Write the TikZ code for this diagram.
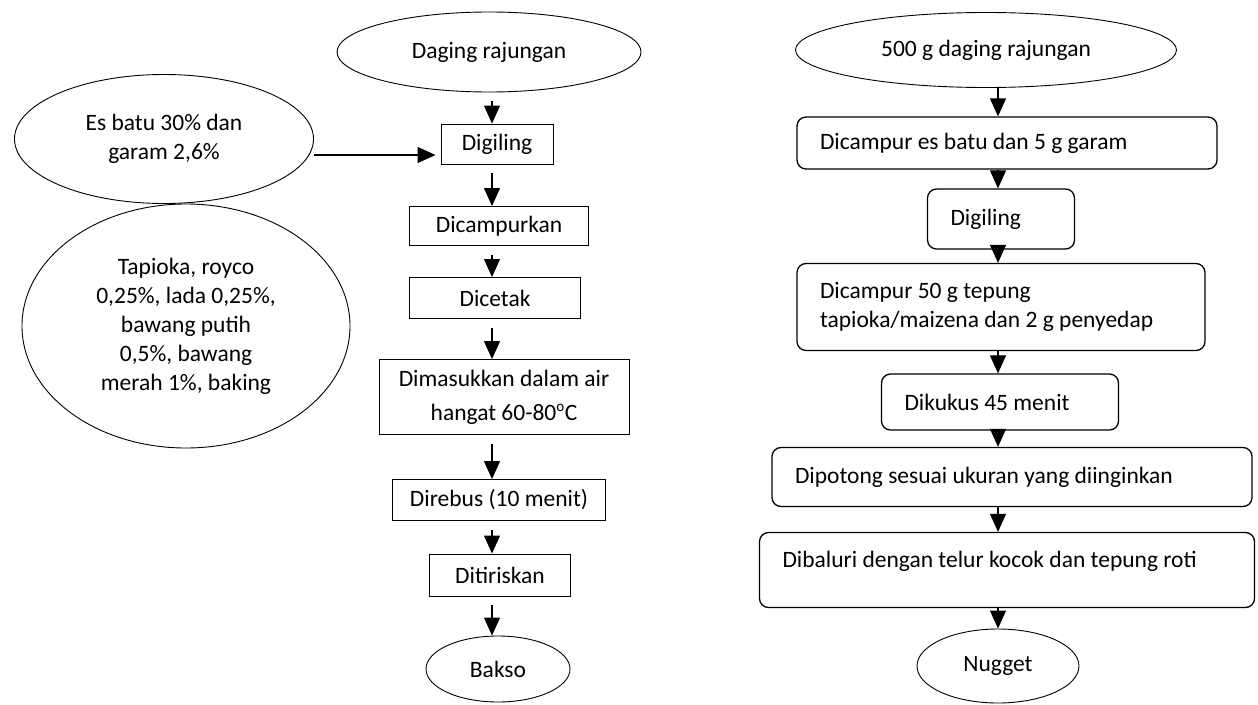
\documentclass[tikz,border=0pt]{standalone}
\usepackage{fontspec}
\setmainfont{Carlito}
\usetikzlibrary{arrows.meta,shapes.geometric}

\begin{document}
\begin{tikzpicture}[x=1pt,y=-1pt,
  font=\fontsize{23.5}{29}\selectfont,
  oval/.style={draw,ellipse,inner sep=0pt,align=center,line width=0.9pt},
  kotak/.style={draw,rectangle,inner sep=0pt,align=center,line width=0.9pt},
  bulat/.style={draw,rectangle,rounded corners=9pt,inner xsep=23pt,inner ysep=0pt,align=flush left,line width=1.3pt},
  panah/.style={-{Triangle[length=18pt,width=16pt]},line width=1.1pt}]
  \useasboundingbox (0,0) rectangle (1258,704);
  % Bakso
  \node[oval,minimum width=304pt,minimum height=80pt] (daging) at (489,52) {Daging rajungan};
  \node[kotak,minimum width=112pt,minimum height=40pt] (giling) at (497,144) {Digiling};
  \node[oval,minimum width=299pt,minimum height=129pt] (es) at (164,139) {Es batu 30\% dan\\garam 2,6\%};
  \node[kotak,minimum width=179pt,minimum height=39pt] (campur) at (499,226) {Dicampurkan};
  \node[kotak,minimum width=171pt,minimum height=41pt] (cetak) at (495,298) {Dicetak};
  \node[kotak,minimum width=250pt,minimum height=75pt] (masuk) at (504,397) {Dimasukkan dalam air\\[5pt]hangat 60-80\textsuperscript{\fontsize{15}{15}\selectfont o}C};
  \node[kotak,minimum width=213pt,minimum height=41pt] (rebus) at (499,500) {Direbus (10 menit)};
  \node[kotak,minimum width=141pt,minimum height=42pt] (tiris) at (500,575) {Ditiriskan};
  \node[oval,minimum width=144pt,minimum height=66pt] (bakso) at (498,669) {Bakso};
  \node[oval,minimum width=328pt,minimum height=244pt] (bumbu) at (186,326) {Tapioka, royco\\0,25\%, lada 0,25\%,\\bawang putih\\0,5\%, bawang\\merah 1\%, baking};
  % Panah bakso
  \coordinate (kiri) at (492,0);
  \foreach \a/\b in {daging/giling,giling/campur,campur/cetak,cetak/masuk,masuk/rebus,rebus/tiris,tiris/bakso}
    \draw[panah,shorten <=9pt] (\a.south -| kiri) -- (\b.north -| kiri);
  \coordinate (garis) at (0,155);
  \draw[panah,shorten >=5pt] (es.east |- garis) -- (giling.west |- garis);
  % Nugget
  \node[oval,minimum width=381pt,minimum height=75pt] (daging2) at (986,50) {500 g daging rajungan};
  \node[bulat,text width=374pt,minimum height=52pt] (r1) at (1007,143) {Dicampur es batu dan 5 g garam};
  \node[bulat,text width=101pt,minimum height=60pt] (r2) at (1001,219) {Digiling};
  \node[bulat,text width=362pt,minimum height=87pt] (r3) at (1001,307) {Dicampur 50 g tepung\\tapioka/maizena dan 2 g penyedap};
  \node[bulat,text width=191pt,minimum height=56pt] (r4) at (1000,402) {Dikukus 45 menit};
  \node[bulat,text width=434pt,minimum height=59pt] (r5) at (1012,477) {Dipotong sesuai ukuran yang diinginkan};
  \node[bulat,text width=449pt,minimum height=75pt,text depth=22pt] (r6) at (1007,570) {Dibaluri dengan telur kocok dan tepung roti};
  \node[oval,minimum width=162pt,minimum height=74pt] (nugget) at (998,666) {Nugget};
  % Panah nugget
  \coordinate (kanan) at (998,0);
  \foreach \a/\b in {daging2/r1,r1/r2,r2/r3,r3/r4,r4/r5,r5/r6,r6/nugget}
    \draw[panah] (\a.south -| kanan) -- (\b.north -| kanan);
\end{tikzpicture}
\end{document}
